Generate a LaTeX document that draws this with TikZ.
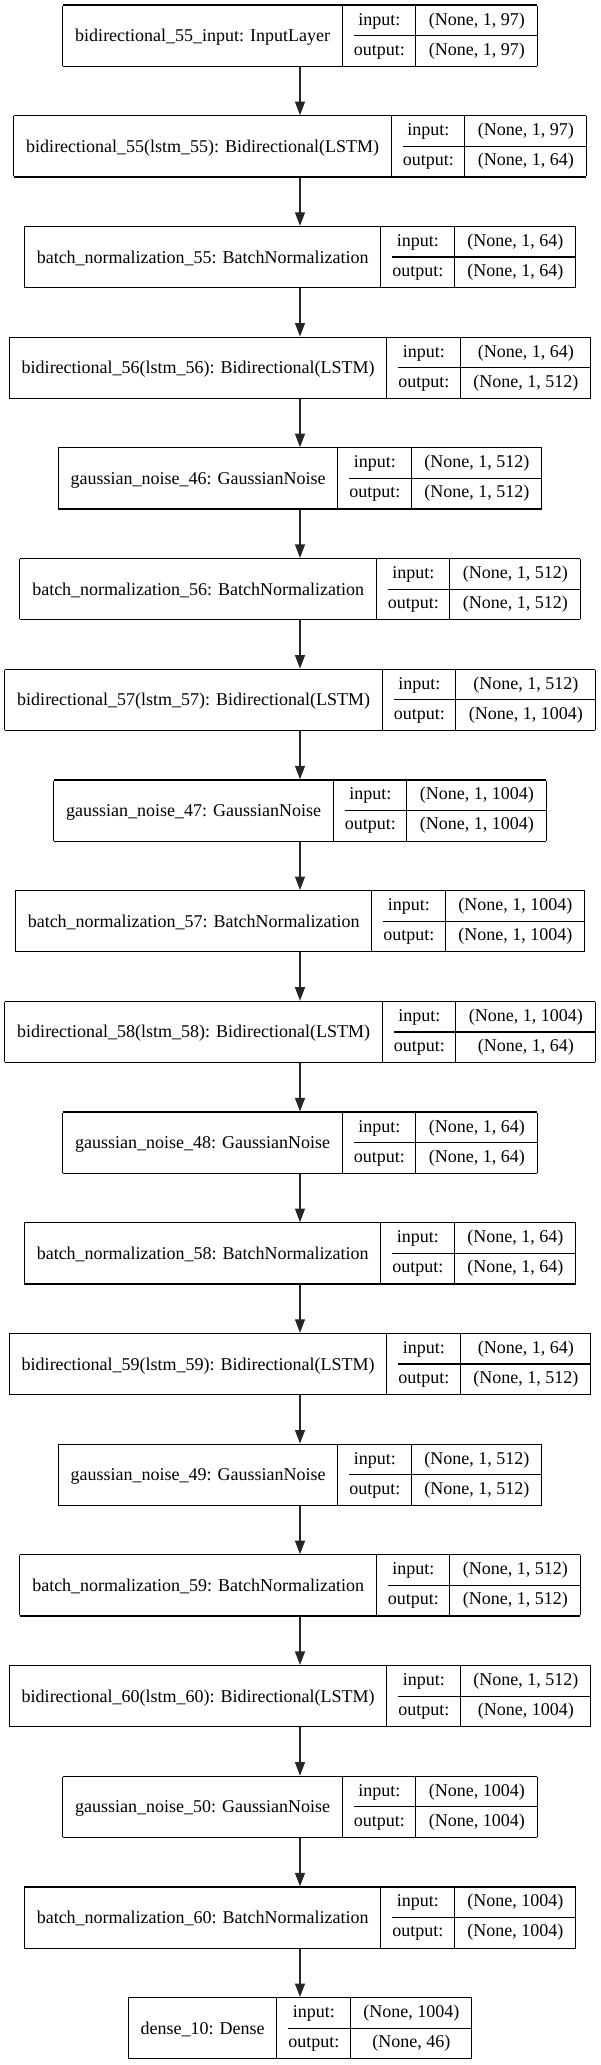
\documentclass[tikz,border=0pt]{standalone}
\usepackage{fontspec}
\setmainfont{Liberation Serif}
\usepackage{tikz}
\usetikzlibrary{arrows.meta,positioning}
\setlength{\arrayrulewidth}{1.2pt}
\newcommand{\layerrec}[3]{%
  \begin{tabular}{|@{\hspace{12pt}}c@{\hspace{12pt}}|@{\hspace{11pt}}c@{\hspace{11pt}}|@{\hspace{12.5pt}}c@{\hspace{12.5pt}}|}\hline
  \raisebox{-16.6pt}[0pt][0pt]{#1} & \rule[-10pt]{0pt}{29.4pt}input: & #2\\\cline{2-3}
  & \rule[-10.6pt]{0pt}{30.6pt}output: & #3\\\hline
  \end{tabular}}
\tikzset{
layer/.style = {inner sep=0pt, outer sep=0pt, fill=white, font=\fontsize{18}{22}\selectfont},
flow/.style = {->, line width=1.2pt, draw=black!85}
}

\begin{document}
\begin{tikzpicture}[x=1pt, y=1pt, node distance=48.3pt, >={Triangle[length=13.5pt,width=10pt]}]
   \useasboundingbox (0,0) rectangle (600,-2065);
   \node [layer, anchor=north] (l1) at (300,-4.4) {\layerrec{bidirectional\_55\_input: InputLayer}{(None, 1, 97)}{(None, 1, 97)}};
   \node [layer, below=of l1] (l2) {\layerrec{bidirectional\_55(lstm\_55): Bidirectional(LSTM)}{(None, 1, 97)}{(None, 1, 64)}};
   \node [layer, below=of l2] (l3) {\layerrec{batch\_normalization\_55: BatchNormalization}{(None, 1, 64)}{(None, 1, 64)}};
   \node [layer, below=of l3] (l4) {\layerrec{bidirectional\_56(lstm\_56): Bidirectional(LSTM)}{(None, 1, 64)}{(None, 1, 512)}};
   \node [layer, below=of l4] (l5) {\layerrec{gaussian\_noise\_46: GaussianNoise}{(None, 1, 512)}{(None, 1, 512)}};
   \node [layer, below=of l5] (l6) {\layerrec{batch\_normalization\_56: BatchNormalization}{(None, 1, 512)}{(None, 1, 512)}};
   \node [layer, below=of l6] (l7) {\layerrec{bidirectional\_57(lstm\_57): Bidirectional(LSTM)}{(None, 1, 512)}{(None, 1, 1004)}};
   \node [layer, below=of l7] (l8) {\layerrec{gaussian\_noise\_47: GaussianNoise}{(None, 1, 1004)}{(None, 1, 1004)}};
   \node [layer, below=of l8] (l9) {\layerrec{batch\_normalization\_57: BatchNormalization}{(None, 1, 1004)}{(None, 1, 1004)}};
   \node [layer, below=of l9] (l10) {\layerrec{bidirectional\_58(lstm\_58): Bidirectional(LSTM)}{(None, 1, 1004)}{(None, 1, 64)}};
   \node [layer, below=of l10] (l11) {\layerrec{gaussian\_noise\_48: GaussianNoise}{(None, 1, 64)}{(None, 1, 64)}};
   \node [layer, below=of l11] (l12) {\layerrec{batch\_normalization\_58: BatchNormalization}{(None, 1, 64)}{(None, 1, 64)}};
   \node [layer, below=of l12] (l13) {\layerrec{bidirectional\_59(lstm\_59): Bidirectional(LSTM)}{(None, 1, 64)}{(None, 1, 512)}};
   \node [layer, below=of l13] (l14) {\layerrec{gaussian\_noise\_49: GaussianNoise}{(None, 1, 512)}{(None, 1, 512)}};
   \node [layer, below=of l14] (l15) {\layerrec{batch\_normalization\_59: BatchNormalization}{(None, 1, 512)}{(None, 1, 512)}};
   \node [layer, below=of l15] (l16) {\layerrec{bidirectional\_60(lstm\_60): Bidirectional(LSTM)}{(None, 1, 512)}{(None, 1004)}};
   \node [layer, below=of l16] (l17) {\layerrec{gaussian\_noise\_50: GaussianNoise}{(None, 1004)}{(None, 1004)}};
   \node [layer, below=of l17] (l18) {\layerrec{batch\_normalization\_60: BatchNormalization}{(None, 1004)}{(None, 1004)}};
   \node [layer, below=of l18] (l19) {\layerrec{dense\_10: Dense}{(None, 1004)}{(None, 46)}};
   % arrows between layers
   \foreach \i [evaluate=\i as \j using int(\i+1)] in {1,...,18}
     \draw [flow] (l\i) -- (l\j);
\end{tikzpicture}
\end{document}
